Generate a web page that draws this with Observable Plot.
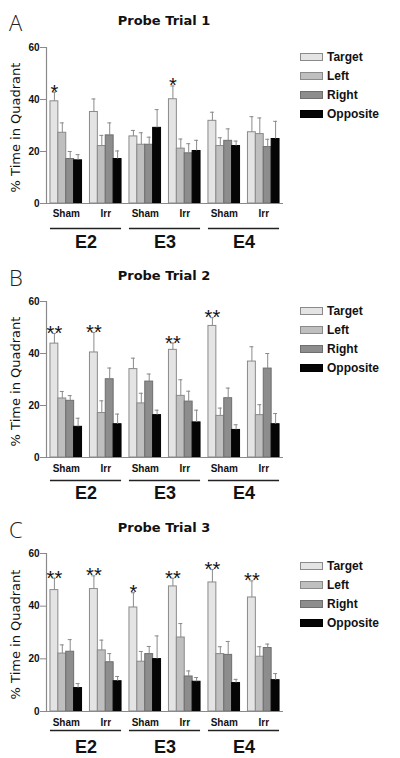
<!DOCTYPE html>
<html><head><meta charset="utf-8">
<script src="https://cdn.jsdelivr.net/npm/d3@7"></script>
<script src="https://cdn.jsdelivr.net/npm/@observablehq/plot@0.6"></script>
<style>
body{margin:0;background:#fff;font-family:"Liberation Sans",Arial,sans-serif;}
.panel{position:relative;width:400px;overflow:visible;}
.panel svg{position:absolute;left:0;top:0;overflow:visible;}
.panel svg g[aria-label="y-axis"] line, .panel svg g[aria-label="y-axis tick"] path{stroke:#8a8a8a;}
.letter{position:absolute;left:9px;font-size:22px;font-weight:200;font-family:"Open Sans","DejaVu Sans",sans-serif;transform:translateY(-50%);line-height:1;color:#222}
.title{position:absolute;font-size:13px;font-weight:bold;font-family:"DejaVu Sans",sans-serif;transform:translate(-50%,-50%);white-space:nowrap;color:#111}
.legend{position:absolute;left:300px;}
.row{height:19px;display:flex;align-items:center;font-size:12px;font-weight:bold;color:#111}
.sw{width:21px;height:6px;border:1px solid #888;margin-right:4px;box-sizing:content-box}
</style></head><body><div id="root"></div><script>
// ---------- data ----------
const quadrants = ["Target", "Left", "Right", "Opposite"];
const groups = ["Sham", "Irr", "Sham", "Irr", "Sham", "Irr"];
const experiments = ["E2", "E3", "E4"];
const titles = ["Probe Trial 1", "Probe Trial 2", "Probe Trial 3"];
const letters = ["A", "B", "C"];
const yTicks = [0, 20, 40, 60];
const yLabel = "% Time in Quadrant";

// rows = groups (E2 Sham, E2 Irr, E3 Sham, E3 Irr, E4 Sham, E4 Irr), columns = quadrants
const trial1Means = [[39.3,27.2,17.1,16.6],[35.2,22.1,26.2,17.1],[25.8,22.6,22.6,29.1],[40.1,21.1,19.3,20.2],[31.8,22.1,24.1,22.1],[27.4,26.7,21.7,24.8]];
const trial1SEM   = [[3.5,3.8,2.9,2.2],[5.0,4.1,4.8,3.1],[2.3,4.6,2.9,7.0],[5.1,3.7,3.7,4.1],[3.3,3.2,4.6,1.9],[6.0,6.2,3.0,6.8]];
const trial1Stars = ["*", "", "", "*", "", ""];

const trial2Means = [[43.8,22.7,21.8,11.8],[40.4,17.1,30.1,12.8],[34.0,20.8,29.2,16.3],[41.4,23.7,21.5,13.5],[50.6,16.0,22.8,10.6],[36.9,16.3,34.2,12.8]];
const trial2SEM   = [[3.9,2.7,2.0,3.3],[7.7,4.7,4.3,3.9],[4.2,3.9,2.9,1.9],[2.6,6.2,4.0,4.7],[3.2,3.0,3.9,2.0],[5.7,4.0,5.8,4.1]];
const trial2Stars = ["**", "**", "", "**", "**", ""];

const trial3Means = [[46.1,22.0,22.7,8.9],[46.5,23.2,18.7,11.5],[39.5,18.9,21.8,19.9],[47.5,28.1,13.3,11.3],[49.0,21.8,21.5,10.8],[43.3,20.8,24.1,11.9]];
const trial3SEM   = [[4.5,3.3,4.6,1.7],[5.0,3.9,3.3,1.8],[5.6,3.9,2.9,8.8],[3.1,5.3,2.1,1.6],[4.9,2.8,5.1,1.4],[6.3,3.8,1.5,2.5]];
const trial3Stars = ["**", "**", "*", "**", "**", "**"];

// ---------- styles / layout ----------
const fills   = {Target: "#e4e4e4", Left: "#bfbfbf", Right: "#8d8d8d", Opposite: "#050505"};
const strokes = {Target: "#8a8a8a", Left: "#8a8a8a", Right: "#6e6e6e", Opposite: "#000"};
const panelLayout = [
  {height: 250, mt: 47, mb: 47, gDy: 10, lDy: 25, eDy: 39, titleY: 20, legTop: 47},
  {height: 250, mt: 51, mb: 43, gDy: 11, lDy: 23, eDy: 36, titleY: 25, legTop: 51},
  {height: 258, mt: 53, mb: 47, gDy: 11, lDy: 19, eDy: 36, titleY: 27, legTop: 56}
];
const trials = [
  {means: trial1Means, sem: trial1SEM, stars: trial1Stars},
  {means: trial2Means, sem: trial2SEM, stars: trial2Stars},
  {means: trial3Means, sem: trial3SEM, stars: trial3Stars}
];
const pad = 0.1, barW = 0.2;
const axisGray = "#8a8a8a";

const root = document.getElementById("root");
trials.forEach((t, p) => {
  const L = panelLayout[p];
  const rows = groups.flatMap((g, i) => quadrants.map((q, j) => {
    const x1 = i + pad + j * barW;
    return {gi: i, group: g, quadrant: q, mean: t.means[i][j], sem: t.sem[i][j],
            x1, x2: x1 + barW, xc: x1 + barW / 2, star: j === 0 ? t.stars[i] : ""};
  }));
  const marks = [];
  for (const q of quadrants) {
    marks.push(Plot.rect(rows.filter(d => d.quadrant === q), {
      x1: "x1", x2: "x2", y1: () => 0, y2: "mean", fill: fills[q], stroke: strokes[q], strokeWidth: 1
    }));
  }
  marks.push(
    Plot.ruleX(rows, {x: "xc", y1: "mean", y2: d => d.mean + d.sem, stroke: axisGray, strokeWidth: 1}),
    Plot.ruleY(rows, {y: d => d.mean + d.sem, x1: d => d.xc - 0.05, x2: d => d.xc + 0.05, stroke: axisGray, strokeWidth: 1}),
    Plot.ruleY([0], {stroke: axisGray, strokeWidth: 1.2}),
    Plot.ruleX([0], {stroke: axisGray, strokeWidth: 1.2}),
    Plot.text(rows.filter(d => d.star), {x: "xc", y: d => d.mean + d.sem, text: "star", dy: 0, fontSize: 20, fontWeight: "normal", fill: "#111"}),
    Plot.text(groups, {x: (d, i) => i + 0.5, y: () => 0, text: d => d, dy: L.gDy, fontSize: 10, fontWeight: "bold", fill: "#111"}),
    Plot.ruleY(experiments, {y: () => 0, x1: (d, j) => 2 * j + pad, x2: (d, j) => 2 * j + 2 - pad, dy: L.lDy, stroke: "#222", strokeWidth: 1.5}),
    Plot.text(experiments, {x: (d, j) => 2 * j + 1, y: () => 0, text: d => d, dy: L.eDy, fontSize: 18, fontWeight: "bold", fill: "#111"}),
    Plot.text([yLabel], {frameAnchor: "left", textAnchor: "middle", rotate: -90, dx: -31, dy: 2, text: d => d, fontSize: 13, fontFamily: "DejaVu Sans, sans-serif", fontWeight: "normal", fill: "#111"})
  );
  const chart = Plot.plot({
    width: 400, height: L.height,
    marginLeft: 46, marginRight: 117, marginTop: L.mt, marginBottom: L.mb,
    style: {fontFamily: "Liberation Sans, Arial, sans-serif", fontSize: "10px", fontWeight: "bold", background: "transparent", overflow: "visible", color: "#111"},
    x: {domain: [0, groups.length], axis: null},
    y: {domain: [0, 60], ticks: yTicks, tickSize: 6, tickPadding: 1, label: null},
    marks
  });
  const div = document.createElement("div");
  div.className = "panel";
  div.style.height = L.height + "px";
  div.appendChild(chart);
  const letter = document.createElement("div");
  letter.className = "letter"; letter.textContent = letters[p]; letter.style.top = (L.titleY + 2) + "px";
  div.appendChild(letter);
  const title = document.createElement("div");
  title.className = "title"; title.textContent = titles[p];
  title.style.left = "164px"; title.style.top = L.titleY + "px";
  div.appendChild(title);
  const leg = document.createElement("div");
  leg.className = "legend"; leg.style.top = L.legTop + "px";
  for (const q of quadrants) {
    const r = document.createElement("div"); r.className = "row";
    const s = document.createElement("span"); s.className = "sw";
    s.style.background = fills[q]; s.style.borderColor = strokes[q];
    const tx = document.createElement("span"); tx.textContent = q;
    r.appendChild(s); r.appendChild(tx); leg.appendChild(r);
  }
  div.appendChild(leg);
  root.appendChild(div);
});
</script></body></html>
